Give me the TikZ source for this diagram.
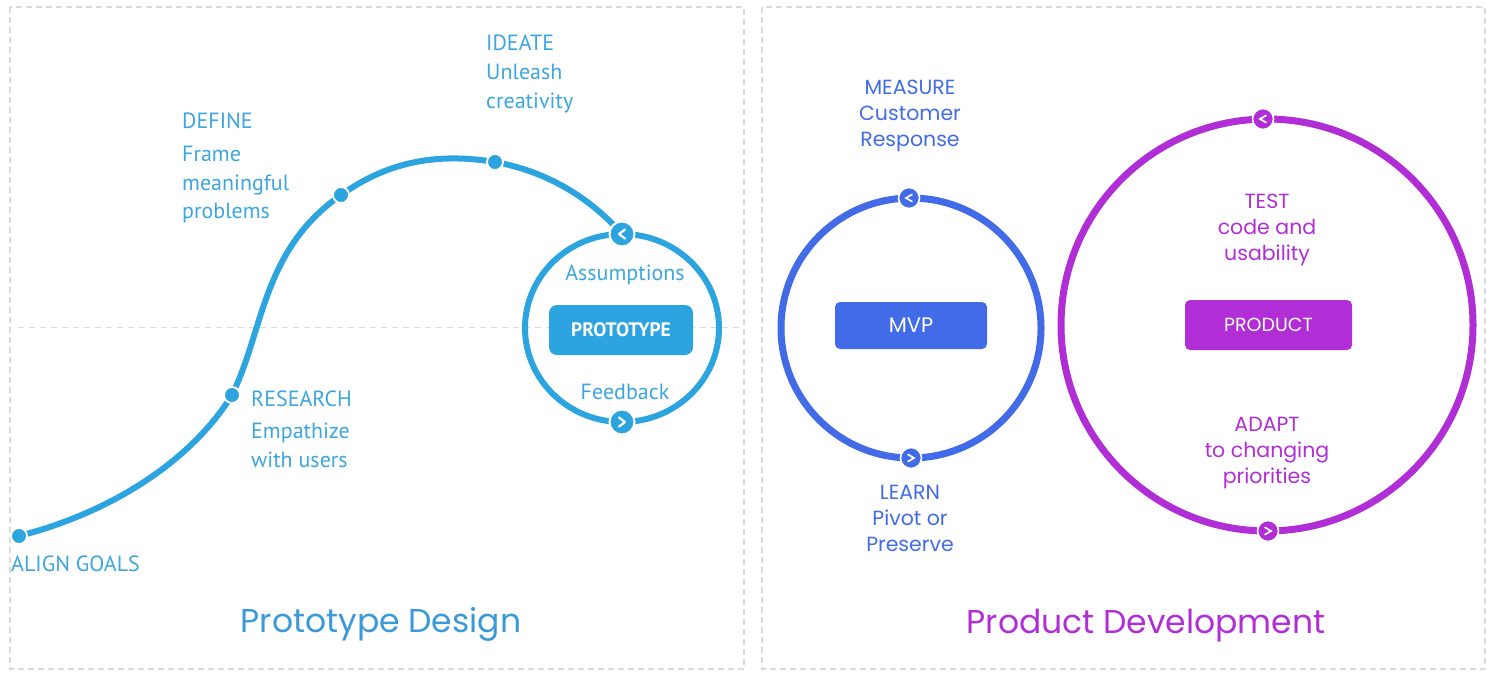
\documentclass[tikz,border=0pt]{standalone}
\usepackage{fontspec}
\setmainfont{Poppins}
\newfontfamily\leftfont{PT Sans}
\definecolor{pblue}{RGB}{44,164,224}
\definecolor{ltext}{RGB}{60,166,222}
\definecolor{ptitle}{RGB}{58,153,216}
\definecolor{mblue}{RGB}{66,107,232}
\definecolor{ppurple}{RGB}{177,46,214}
\definecolor{panelgray}{RGB}{218,218,218}
\tikzset{
  panel/.style={draw=panelgray, line width=1.3pt, dash pattern=on 6pt off 4pt},
  guide/.style={draw=panelgray, line width=1pt, dash pattern=on 6pt off 5pt},
  curve/.style={draw=pblue, line width=6pt},
  dotnode/.style={circle, fill=pblue, draw=white, line width=1.8pt, minimum size=16pt, inner sep=0pt},
  bigmark/.style={circle, fill=pblue, draw=white, line width=2pt, minimum size=25pt, inner sep=0pt},
  lt/.style={text=ltext, font=\leftfont\fontsize{22}{26}\selectfont, inner sep=0pt},
  rt/.style={font=\fontsize{20.5}{26}\selectfont, inner sep=0pt, anchor=base},
  smallmark/.style={circle, draw=white, line width=1.6pt, minimum size=21pt, inner sep=0pt},
  chev/.style={white, line width=1.7pt, line cap=round, line join=miter},
  titletxt/.style={font=\fontsize{33}{38}\selectfont, inner sep=0pt, anchor=base},
}
\begin{document}
\begin{tikzpicture}[x=1pt,y=-1pt]
\useasboundingbox (0,0) rectangle (1487,673);
% panels
\draw[panel] (10,7) rectangle (744,669);
\draw[panel] (762,7) rectangle (1485,669);
\draw[guide] (18,327) -- (740,327);

% ---------- left: prototype design ----------
\coordinate (ag) at (19,536);
\coordinate (rs) at (232,395);
\coordinate (df) at (341,195);
\coordinate (id) at (495,162);
\coordinate (pc) at (622,328);
\coordinate (pt) at (622,234);
\coordinate (pb) at (622,422);

\draw[curve] (ag) .. controls (120,510) and (195,455) .. (rs)
  .. controls (264,330) and (262,250) .. (df)
  .. controls (390,160) and (440,153) .. (id)
  .. controls (550,172) and (592,200) .. (pt);
\draw[curve] (pc) ellipse [x radius=97, y radius=94];

\node[dotnode] (agd) at (ag) {};
\node[dotnode] (rsd) at (rs) {};
\node[dotnode] (dfd) at (df) {};
\node[dotnode] (idd) at (id) {};
\node[bigmark] (ptm) at (pt) {};
\node[bigmark] (pbm) at (pb) {};
\draw[white, line width=2.2pt, line cap=round, line join=round]
  ([xshift=3pt,yshift=4.5pt]ptm.center) -- ([xshift=-3pt]ptm.center) -- ([xshift=3pt,yshift=-4.5pt]ptm.center);
\draw[white, line width=2.2pt, line cap=round, line join=round]
  ([xshift=-3pt,yshift=4.5pt]pbm.center) -- ([xshift=3pt]pbm.center) -- ([xshift=-3pt,yshift=-4.5pt]pbm.center);

\node[fill=pblue, rounded corners=8pt, minimum width=144pt, minimum height=50pt, text=white,
  font=\leftfont\bfseries\fontsize{19.5}{22}\selectfont] (proto) at (621,330) {PROTOTYPE};

\node[lt, anchor=base] (assum) at (625,280) {Assumptions};
\node[lt, anchor=base] (feedb) at (625,399) {Feedback};

\node[lt, anchor=base west] (idt1) at (486,50) {IDEATE};
\node[lt, anchor=base west] (idt2) at (486,79) {Unleash};
\node[lt, anchor=base west] (idt3) at (486,108) {creativity};

\node[lt, anchor=base west] (dft1) at (182,128) {DEFINE};
\node[lt, anchor=base west] (dft2) at (182,161) {Frame};
\node[lt, anchor=base west] (dft3) at (182,190) {meaningful};
\node[lt, anchor=base west] (dft4) at (182,218) {problems};

\node[lt, anchor=base west] (rst1) at (251,406) {RESEARCH};
\node[lt, anchor=base west] (rst2) at (251,438) {Empathize};
\node[lt, anchor=base west] (rst3) at (251,467) {with users};

\node[lt, anchor=base west] (agt) at (11,571) {ALIGN GOALS};

\node[titletxt, text=ptitle] (ttl1) at (381,632) {Prototype Design};

% ---------- right: product development ----------
\coordinate (mc) at (911,328);
\coordinate (qc) at (1267,325);
\draw[mblue, line width=7pt] (mc) circle [radius=130];
\draw[ppurple, line width=7pt] (qc) circle [radius=206];

\node[smallmark, fill=mblue] (mtop) at (909,198) {};
\node[smallmark, fill=mblue] (mbot) at (911,458) {};
\node[smallmark, fill=ppurple] (qtop) at (1263,119) {};
\node[smallmark, fill=ppurple] (qbot) at (1268,531) {};
\foreach \m in {mtop,qtop}{
  \draw[chev] ([xshift=3pt,yshift=3.5pt]\m.center) -- ([xshift=-3pt]\m.center) -- ([xshift=3pt,yshift=-3.5pt]\m.center);
}
\foreach \m in {mbot,qbot}{
  \draw[chev] ([xshift=-3pt,yshift=3.5pt]\m.center) -- ([xshift=3pt]\m.center) -- ([xshift=-3pt,yshift=-3.5pt]\m.center);
}

\node[fill=mblue, rounded corners=5pt, minimum width=152pt, minimum height=47pt, text=white,
  font=\fontsize{21}{22}\selectfont] (mvp) at (911,325.5) {MVP};
\node[fill=ppurple, rounded corners=5pt, minimum width=167pt, minimum height=50pt, text=white,
  font=\fontsize{19}{20}\selectfont] (prod) at (1268.5,325) {PRODUCT};

\node[rt, text=mblue] (ms1) at (910,94.5) {MEASURE};
\node[rt, text=mblue] (ms2) at (910,120.5) {Customer};
\node[rt, text=mblue] (ms3) at (910,146.5) {Response};

\node[rt, text=mblue] (ln1) at (910,499.5) {LEARN};
\node[rt, text=mblue] (ln2) at (910,525.5) {Pivot or};
\node[rt, text=mblue] (ln3) at (910,551.5) {Preserve};

\node[rt, text=ppurple] (ts1) at (1267,208.5) {TEST};
\node[rt, text=ppurple] (ts2) at (1267,234.5) {code and};
\node[rt, text=ppurple] (ts3) at (1267,260.5) {usability};

\node[rt, text=ppurple] (ad1) at (1267,431.5) {ADAPT};
\node[rt, text=ppurple] (ad2) at (1267,457.5) {to changing};
\node[rt, text=ppurple] (ad3) at (1267,483.5) {priorities};

\node[titletxt, text=ppurple] (ttl2) at (1146,633) {Product Development};
\end{tikzpicture}
\end{document}
